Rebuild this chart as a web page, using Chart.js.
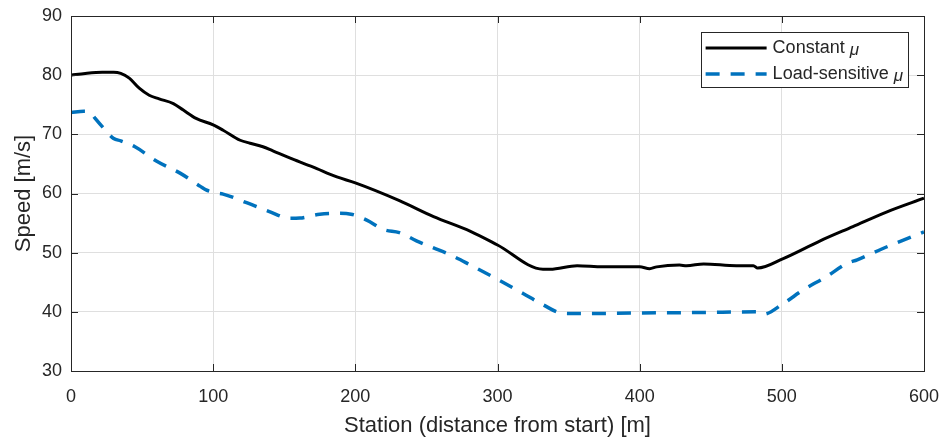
<!DOCTYPE html>
<html>
<head>
<meta charset="utf-8">
<script src="https://cdn.jsdelivr.net/npm/chart.js@4"></script>
<style>
  html, body { margin: 0; padding: 0; background: #fff; }
  #wrap { width: 942px; height: 439px; }
</style>
</head>
<body>
<div id="wrap"><canvas id="speed"></canvas></div>
<script>
// Constant mu
const stationConst = [0, 10, 22, 30, 35, 41, 48, 55, 62, 72, 79, 88, 100, 107, 119, 126, 135, 142, 156, 170, 187, 200, 231, 255, 281, 300, 332, 337, 356, 374, 400, 407, 412, 428, 433, 445, 468, 480, 483, 501, 527, 550, 574, 600];
const speedConst = [80.0, 80.3, 80.5, 80.5, 80.3, 79.5, 77.8, 76.6, 76.0, 75.2, 74.1, 72.7, 71.6, 70.7, 69.0, 68.5, 67.9, 67.2, 65.8, 64.5, 62.8, 61.8, 58.8, 56.1, 53.6, 51.3, 47.2, 47.2, 47.8, 47.6, 47.6, 47.3, 47.6, 47.9, 47.8, 48.1, 47.8, 47.8, 47.4, 49.0, 52.0, 54.4, 56.9, 59.2];

// Load-sensitive mu
const stationLoad = [0, 9, 14, 17, 22, 30, 35, 45, 60, 77, 91, 95, 102, 107, 124, 140, 154, 161, 175, 188, 197, 208, 220, 231, 243, 255, 267, 281, 300, 318, 332, 346, 363, 400, 445, 482, 487, 501, 515, 531, 546, 553, 574, 600];
const speedLoad = [73.7, 73.9, 73.6, 72.7, 71.3, 69.3, 68.9, 67.9, 65.5, 63.4, 61.2, 60.6, 60.1, 59.9, 58.4, 56.9, 55.8, 55.85, 56.5, 56.65, 56.5, 55.5, 53.9, 53.4, 52.0, 50.8, 49.6, 47.9, 45.5, 43.1, 41.2, 39.75, 39.7, 39.8, 39.9, 40.0, 39.6, 41.4, 43.7, 45.9, 48.2, 48.8, 51.0, 53.5];

const seriesNames = ['Constant ', 'Load-sensitive '];
const xTicks = [0, 100, 200, 300, 400, 500, 600];
const yTicks = [30, 40, 50, 60, 70, 80, 90];

const FONT = "'Liberation Sans', Arial, sans-serif";
const INK = '#262626';
const GRID = '#dfdfdf';

const toPoints = (xs, ys) => xs.map((x, i) => ({ x, y: ys[i] }));

// box + inward tick marks like a matlab axes
const frame = {
  id: 'frame',
  afterDraw(chart) {
    const { ctx, chartArea: a, scales } = chart;
    const len = 7;
    ctx.save();
    ctx.strokeStyle = INK;
    ctx.lineWidth = 1;
    ctx.beginPath();
    xTicks.forEach(v => {
      const px = Math.round(scales.x.getPixelForValue(v)) + 0.5;
      ctx.moveTo(px, a.bottom); ctx.lineTo(px, a.bottom - len);
      ctx.moveTo(px, a.top); ctx.lineTo(px, a.top + len);
    });
    yTicks.forEach(v => {
      const py = Math.round(scales.y.getPixelForValue(v)) + 0.5;
      ctx.moveTo(a.left, py); ctx.lineTo(a.left + len, py);
      ctx.moveTo(a.right, py); ctx.lineTo(a.right - len, py);
    });
    ctx.stroke();
    ctx.strokeRect(Math.round(a.left) + 0.5, Math.round(a.top) + 0.5,
      Math.round(a.right - a.left), Math.round(a.bottom - a.top));
    ctx.restore();
  }
};

// legend inside the top right corner
const boxLegend = {
  id: 'boxLegend',
  afterDraw(chart) {
    const { ctx, chartArea: a } = chart;
    const sets = chart.data.datasets;
    ctx.save();
    const muFont = 'italic 17px ' + FONT;
    const widths = seriesNames.map(n => {
      ctx.font = '18px ' + FONT;
      const w = ctx.measureText(n).width;
      ctx.font = muFont;
      return w + ctx.measureText('\u03bc').width;
    });
    const sample = 61, pad = 5, gap = 6, rowH = 26;
    const w = pad + sample + gap + Math.max(...widths) + pad;
    const h = 55;
    const right = a.right - 16, top = a.top + 16;
    const left = right - w;
    ctx.fillStyle = '#fff';
    ctx.fillRect(left, top, w, h);
    ctx.strokeStyle = INK;
    ctx.lineWidth = 1;
    ctx.strokeRect(Math.round(left) + 0.5, Math.round(top) + 0.5, Math.round(w), h);
    sets.forEach((ds, i) => {
      const y = top + 16 + i * rowH;
      ctx.strokeStyle = ds.borderColor;
      ctx.lineWidth = ds.borderWidth;
      ctx.setLineDash(ds.borderDash || []);
      ctx.beginPath();
      ctx.moveTo(left + pad, y);
      ctx.lineTo(left + pad + sample, y);
      ctx.stroke();
      ctx.setLineDash([]);
      ctx.fillStyle = INK;
      ctx.textBaseline = 'middle';
      ctx.font = '18px ' + FONT;
      const tx = left + pad + sample + gap;
      ctx.fillText(seriesNames[i], tx, y);
      const nw = ctx.measureText(seriesNames[i]).width;
      ctx.font = muFont;
      ctx.fillText('\u03bc', tx + nw, y + 2);
    });
    ctx.restore();
  }
};

new Chart(document.getElementById('speed'), {
  type: 'line',
  data: {
    datasets: [
      {
        label: 'Constant \u03bc',
        data: toPoints(stationConst, speedConst),
        borderColor: '#000000',
        borderWidth: 3,
        pointRadius: 0,
        cubicInterpolationMode: 'monotone',
      },
      {
        label: 'Load-sensitive \u03bc',
        data: toPoints(stationLoad, speedLoad),
        borderColor: '#0072bd',
        borderWidth: 3.5,
        borderDash: [14, 11],
        pointRadius: 0,
        cubicInterpolationMode: 'monotone',
      }
    ]
  },
  options: {
    responsive: true,
    maintainAspectRatio: false,
    animation: false,
    layout: { padding: { top: 16, right: 18, left: 0, bottom: 0 } },
    scales: {
      x: {
        type: 'linear',
        min: 0,
        max: 600,
        afterFit: (s) => { s.height = 68; s.paddingLeft = 0; s.paddingRight = 0; },
        afterBuildTicks: (s) => { s.ticks = xTicks.map(v => ({ value: v })); },
        grid: { color: GRID, drawTicks: false },
        border: { display: false },
        ticks: { color: INK, padding: 15, maxRotation: 0, font: { family: FONT, size: 18 } },
        title: {
          display: true,
          text: 'Station (distance from start) [m]',
          color: INK,
          padding: { top: 0, bottom: 0 },
          font: { family: FONT, size: 22 }
        }
      },
      y: {
        min: 30,
        max: 90,
        afterFit: (s) => { s.width = 71; s.paddingTop = 0; s.paddingBottom = 0; },
        afterBuildTicks: (s) => { s.ticks = yTicks.map(v => ({ value: v })); },
        grid: { color: GRID, drawTicks: false },
        border: { display: false },
        ticks: { color: INK, padding: 9, font: { family: FONT, size: 18 } },
        title: {
          display: true,
          text: 'Speed [m/s]',
          color: INK,
          padding: { top: 11, bottom: 0 },
          font: { family: FONT, size: 22 }
        }
      }
    },
    plugins: {
      legend: { display: false },
      tooltip: { enabled: false }
    }
  },
  plugins: [frame, boxLegend]
});
</script>
</body>
</html>
